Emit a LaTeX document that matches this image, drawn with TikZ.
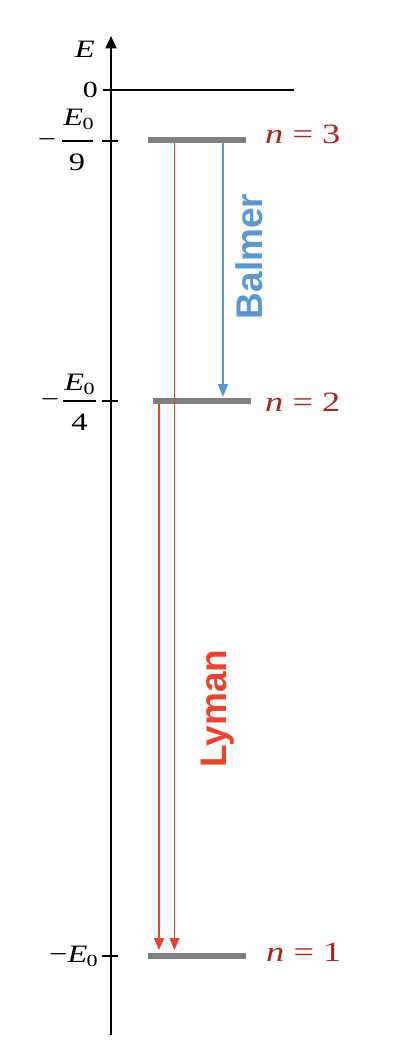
\documentclass[tikz,border=0pt]{standalone}
\usepackage{fontspec}
\usepackage{graphicx}
\usetikzlibrary{arrows.meta}
\newfontfamily\tms{Liberation Serif}
\newfontfamily\hv{Liberation Sans}
\definecolor{levelgray}{HTML}{808080}
\definecolor{lyred}{HTML}{E8432F}
\definecolor{bablue}{HTML}{5B98CB}
\definecolor{nred}{HTML}{A3261F}
\newcommand\sx[1]{\scalebox{1.3}[1]{#1}}
\newcommand\Ez{{\itshape E}\kern-0.5pt\raisebox{-4pt}{\fontsize{17}{17}\selectfont 0}}
\tikzset{
  lbl/.style={inner sep=0pt, font=\tms\fontsize{23}{26}\selectfont},
  elbl/.style={inner sep=0pt, font=\tms\fontsize{25}{28}\selectfont},
  bigl/.style={inner sep=0pt, font=\tms\fontsize{25}{28}\selectfont},
  frc/.style={inner sep=0pt, font=\tms\fontsize{25}{28}\selectfont},
  nlbl/.style={inner sep=0pt, anchor=base west, text=nred, font=\tms\fontsize{28}{30}\selectfont},
  level/.style={draw=none, fill=levelgray, minimum width=98pt, minimum height=5.7pt, inner sep=0pt},
  axisline/.style={line width=2pt, -{Triangle[length=12.5pt,width=11pt]}},
  tickline/.style={line width=1.6pt},
  redarr/.style={draw=lyred, line width=1.5pt, -{Triangle[length=12pt,width=10pt]}, color=lyred},
  bluearr/.style={draw=bablue, line width=1.5pt, -{Triangle[length=13pt,width=10pt]}, color=bablue},
  series/.style={inner sep=0pt, rotate=90, anchor=base, font=\hv\bfseries\fontsize{37}{40}\selectfont},
}
\begin{document}
\begin{tikzpicture}[x=1pt,y=-1pt]
\useasboundingbox (0,0) rectangle (400,1054);
% axis
\coordinate (axb) at (111,1035);
\coordinate (axt) at (111,36);
\draw[axisline] (axb) -- (axt);
\node[elbl, anchor=base east] (Elab) at (95,57.5) {\sx{\itshape E}};
% zero line
\coordinate (z0) at (103,90);
\coordinate (z1) at (294,90);
\draw[line width=2pt] (z0) -- (z1);
\node[lbl, anchor=base east] (zlab) at (98,98) {\sx{0}};
% ticks
\coordinate (t3a) at (102,141); \coordinate (t3b) at (118,141);
\coordinate (t2a) at (102,401); \coordinate (t2b) at (118,401);
\coordinate (t1a) at (102,956); \coordinate (t1b) at (118,956);
\draw[tickline] (t3a) -- (t3b);
\draw[tickline] (t2a) -- (t2b);
\draw[tickline] (t1a) -- (t1b);
% tick labels
\node[frc, anchor=base] (m3) at (47,147.5) {\sx{−}};
\coordinate (f3a) at (62,141); \coordinate (f3b) at (93,141);
\draw[line width=1.2pt] (f3a) -- (f3b);
\node[frc, anchor=base] (num3) at (78.5,125) {\sx{\Ez}};
\node[frc, anchor=base] (den3) at (77,170) {\sx{9}};
\node[frc, anchor=base] (m2) at (50,407.5) {\sx{−}};
\coordinate (f2a) at (63,401); \coordinate (f2b) at (96,401);
\draw[line width=1.2pt] (f2a) -- (f2b);
\node[frc, anchor=base] (num2) at (79.5,390) {\sx{\Ez}};
\node[frc, anchor=base] (den2) at (79.5,430) {\sx{4}};
\node[bigl, anchor=base east] (e1) at (98,962) {\sx{−\Ez}};
% levels
\node[level] (L3) at (197,140.3) {};
\node[level] (L2) at (202.3,401) {};
\node[level] (L1) at (197.2,956) {};
\node[nlbl] (n3) at (265,143) {\sx{\itshape n\upshape\ =\ 3}};
\node[nlbl] (n2) at (265,411) {\sx{\itshape n\upshape\ =\ 2}};
\node[nlbl] (n1) at (266,961) {\sx{\itshape n\upshape\ =\ 1}};
% transitions
\coordinate (r3s) at (174.5,143); \coordinate (r3e) at (174.5,950);
\coordinate (r2s) at (159,404); \coordinate (r2e) at (159,950);
\coordinate (b3s) at (223,143); \coordinate (b3e) at (223,397);
\draw[redarr] (r3s) -- (r3e);
\draw[redarr] (r2s) -- (r2e);
\draw[bluearr] (b3s) -- (b3e);
\node[series, text=bablue] (bal) at (262,256.5) {Balmer};
\node[series, text=lyred] (lym) at (226,708.5) {Lyman};
\end{tikzpicture}
\end{document}
